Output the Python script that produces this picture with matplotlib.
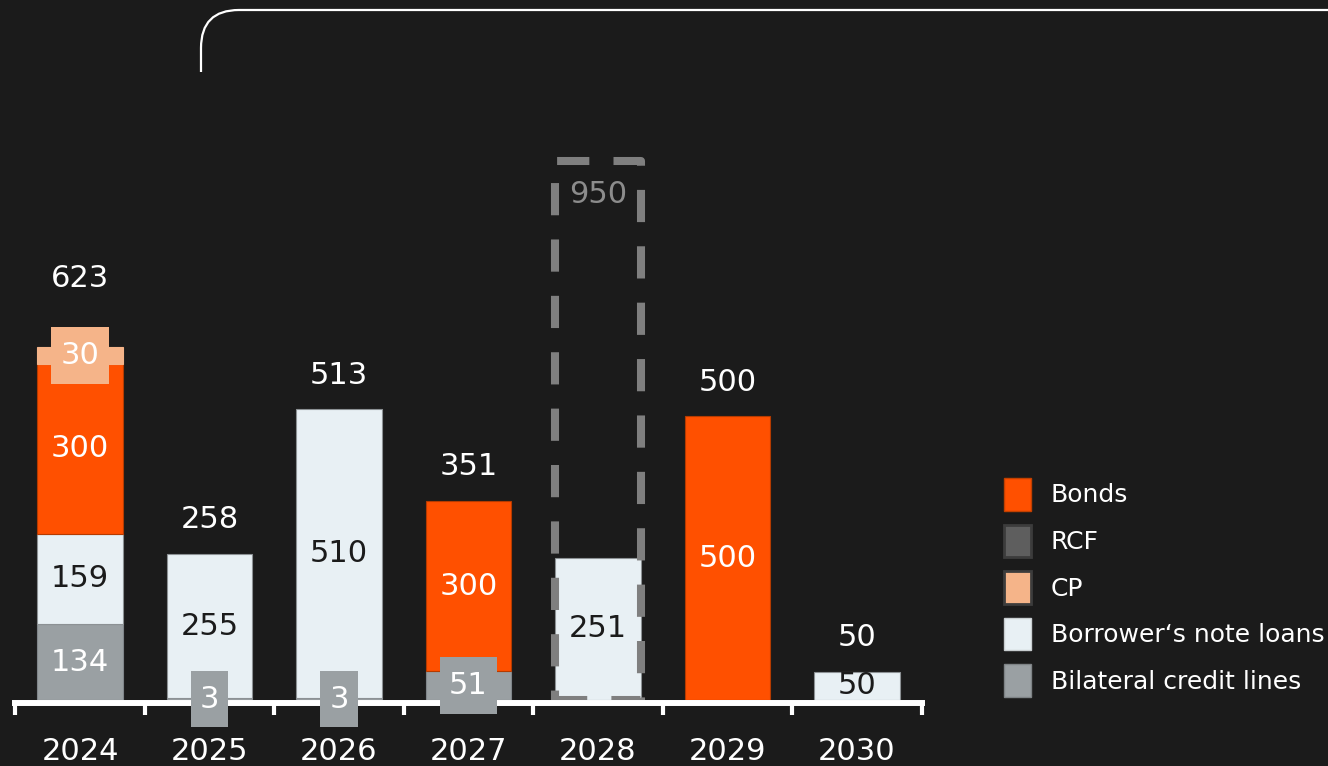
import matplotlib
matplotlib.use('Agg')
import matplotlib.pyplot as plt
from matplotlib.patches import Patch, Rectangle, PathPatch
from matplotlib.path import Path
import numpy as np

# maturity profile, EUR m
years = ['2024', '2025', '2026', '2027', '2028', '2029', '2030']
bilateral = [134, 3, 3, 51, 0, 0, 0]
notes = [159, 255, 510, 0, 251, 0, 50]
bonds = [300, 0, 0, 300, 0, 500, 0]
cp = [30, 0, 0, 0, 0, 0, 0]
rcf_facility = [0, 0, 0, 0, 950, 0, 0]

BG = '#1b1b1b'
W, H = 1328, 766

# name, values, face, edge, label colour (stacked bottom -> top)
series = [
    ('Bilateral credit lines', bilateral, '#9aa0a3', '#80868a', 'white'),
    ('Borrower\u2018s note loans', notes, '#e8f0f4', '#8c9194', BG),
    ('Bonds', bonds, '#ff5000', '#b53b00', 'white'),
    ('CP', cp, '#f5b489', '#f5b489', 'white'),
]


def label_box(x0, y0, width, height, mutation_size):
    # taller than wide padding, like the small-value tags
    px, py = 0.3 * mutation_size, 0.45 * mutation_size
    return Path([(x0 - px, y0 - py), (x0 + width + px, y0 - py),
                 (x0 + width + px, y0 + height + py), (x0 - px, y0 + height + py),
                 (x0 - px, y0 - py)], closed=True)


plt.rcParams['font.family'] = 'DejaVu Sans'
fig = plt.figure(figsize=(W / 100, H / 100), dpi=100, facecolor=BG)
ax = fig.add_axes([15.25 / W, 66 / H, 906.5 / W, 680.4 / H])
ax.set_facecolor(BG)
ax.set_xlim(-0.5, 6.5)
ax.set_ylim(0, 1200)

x = np.arange(len(years))
bw = 0.664
nseg = [sum(1 for s in series if s[1][i] > 0) for i in x]
bottom = np.zeros(len(years))
top_boxed = [False] * len(years)

for name, vals, face, edge, tc in series:
    vals = np.array(vals, dtype=float)
    idx = np.nonzero(vals)[0]
    ax.bar(x[idx], vals[idx], bottom=bottom[idx], width=bw, color=face,
           edgecolor=edge, linewidth=0.8, zorder=2)
    for i in idx:
        yc = bottom[i] + vals[i] / 2
        small = vals[i] < 60 and nseg[i] > 1
        kw = dict(ha='center', va='center', fontsize=22, color=tc, zorder=6)
        if small:
            ax.text(i, yc, f'{vals[i]:.0f}', clip_on=False,
                    bbox=dict(boxstyle=label_box, fc=face, ec='none'), **kw)
        else:
            ax.text(i, yc, f'{vals[i]:.0f}', **kw)
        top_boxed[i] = small
    bottom += vals

totals = bottom
for i in x:
    if rcf_facility[i] > 0:
        ax.add_patch(Rectangle((i - bw / 2, 0), bw, rcf_facility[i], fill=False,
                               ec='#7f7f7f', lw=5.8, ls=(0, (4, 3)),
                               joinstyle='round', capstyle='butt', zorder=4))
        ax.annotate(f'{rcf_facility[i]}', (i, rcf_facility[i]), xytext=(0, -33),
                    textcoords='offset pixels', ha='center', va='center',
                    fontsize=22, color='#8c8c8c')
    else:
        off = 68 if top_boxed[i] else 34
        ax.annotate(f'{totals[i]:.0f}', (i, totals[i]), xytext=(0, off),
                    textcoords='offset pixels', ha='center', va='center',
                    fontsize=22, color='white')

# axis styling
for s in ['top', 'right', 'left']:
    ax.spines[s].set_visible(False)
ax.spines['bottom'].set_color('white')
ax.spines['bottom'].set_linewidth(4.3)
ax.spines['bottom'].set_position(('outward', 2.2))
ax.spines['bottom'].set_zorder(3)
ax.set_yticks([])
ax.set_xticks(x)
ax.set_xticklabels(years)
ax.set_xticks(np.arange(-0.5, 7, 1), minor=True)
ax.tick_params(axis='x', which='major', length=0, pad=24.5, labelsize=22,
               labelcolor='white')
ax.tick_params(axis='x', which='minor', length=8.6, width=3, color='white',
               direction='out')

# legend
handles = [
    Patch(fc='#ff5000', ec='#c24000', lw=1, label='Bonds'),
    Patch(fc='#5e5e5e', ec='#3c3c3c', lw=2, label='RCF'),
    Patch(fc='#f5b489', ec='#3c3c3c', lw=2, label='CP'),
    Patch(fc='#e8f0f4', ec='#c8cdd0', lw=1, label='Borrower\u2018s note loans'),
    Patch(fc='#9aa0a3', ec='#7e8386', lw=1, label='Bilateral credit lines'),
]
ax.legend(handles=handles, loc='upper left',
          bbox_to_anchor=(1004 / W, 1 - 478 / H), bbox_transform=fig.transFigure,
          frameon=False, fontsize=18, labelcolor='white', handlelength=1.07,
          handleheight=1.63, handletextpad=0.8, labelspacing=0.56,
          borderpad=0, borderaxespad=0)

# rounded frame line at the top
r = 38
verts = [(201, 72), (201, 10 + r), (201, 10), (201 + r, 10), (W + 5, 10)]
codes = [Path.MOVETO, Path.LINETO, Path.CURVE3, Path.CURVE3, Path.LINETO]
verts = [(vx / W, 1 - vy / H) for vx, vy in verts]
fig.patches.append(PathPatch(Path(verts, codes), fill=False, ec='white', lw=1.6,
                             transform=fig.transFigure, figure=fig))

fig.savefig('out.png', dpi=100, facecolor=BG)
